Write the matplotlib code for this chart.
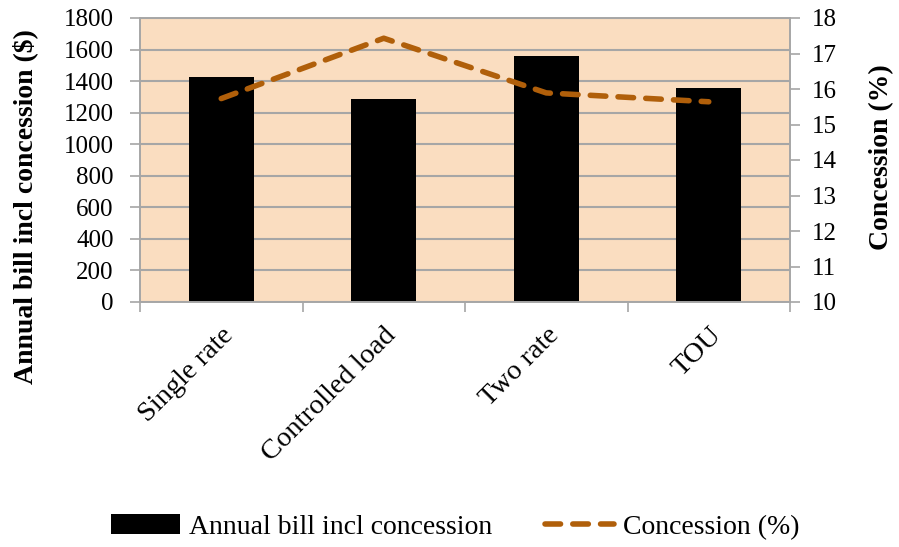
import matplotlib
matplotlib.use("Agg")
import matplotlib.pyplot as plt
import numpy as np

categories = ['Single rate', 'Controlled load', 'Two rate', 'TOU']
annual_bill = [1428, 1288, 1556, 1356]
concession = [15.73, 17.43, 15.89, 15.64]

bar_color = '#000000'
line_color = '#B05F0A'
bg_color = '#FADDC0'
grid_color = '#A6A6A6'

text_font = 'Liberation Serif'

fig = plt.figure(figsize=(8.99, 5.47), dpi=100)
ax = fig.add_axes([140 / 899, 1 - 302 / 547, 650 / 899, 284 / 547])
ax2 = ax.twinx()

x = np.arange(len(categories))
ax.set_facecolor(bg_color)
ax.set_axisbelow(True)
ax.yaxis.grid(True, color=grid_color, linewidth=1.5)
bars = ax.bar(x, annual_bill, width=0.4, color=bar_color, label='Annual bill incl concession', zorder=2)

ax.set_xlim(-0.5, len(categories) - 0.5)
ax.set_ylim(0, 1800)
ax.set_yticks(np.arange(0, 1801, 200))
ax2.set_ylim(10, 18)
ax2.set_yticks(np.arange(10, 19, 1))

line, = ax2.plot(x, concession, color=line_color, linewidth=4, linestyle=(0, (2.8, 2.2)),
                 dash_capstyle='round', label='Concession (%)')

# category ticks between bars
ax.set_xticks(np.arange(-0.5, len(categories), 1.0))
ax.set_xticklabels([])
ax.set_xticks(x, minor=True)
ax.set_xticklabels(categories, minor=True, rotation=45, ha='right', rotation_mode='anchor',
                   family=text_font, fontsize=20.5)
ax.tick_params(axis='x', which='minor', length=0, pad=15)
ax.tick_params(axis='x', which='major', length=7, width=1.2, color=grid_color)
ax.tick_params(axis='y', length=7, width=1.2, color=grid_color, labelsize=18, pad=12)
ax2.tick_params(axis='y', length=7, width=1.2, color=grid_color, labelsize=18, pad=9)
for lab in ax.get_yticklabels() + ax2.get_yticklabels():
    lab.set_family(text_font)

for a in (ax, ax2):
    for s in a.spines.values():
        s.set_color(grid_color)
        s.set_linewidth(1.2)

ax.set_ylabel('Annual bill incl concession ($)', family=text_font, fontsize=20, fontweight='bold')
ax.yaxis.set_label_coords(-0.156, 0.335)
ax2.set_ylabel('Concession (%)', family=text_font, fontsize=20, fontweight='bold', rotation=90)
ax2.yaxis.set_label_coords(1.122, 0.51)

fig.legend(handles=[bars, line], loc='center', bbox_to_anchor=(455 / 899, 1 - 527 / 547), ncol=2,
           frameon=False, prop={'family': text_font, 'size': 20}, handlelength=2.5,
           handletextpad=0.3, columnspacing=1.9)

fig.savefig('out.png', dpi=100)
